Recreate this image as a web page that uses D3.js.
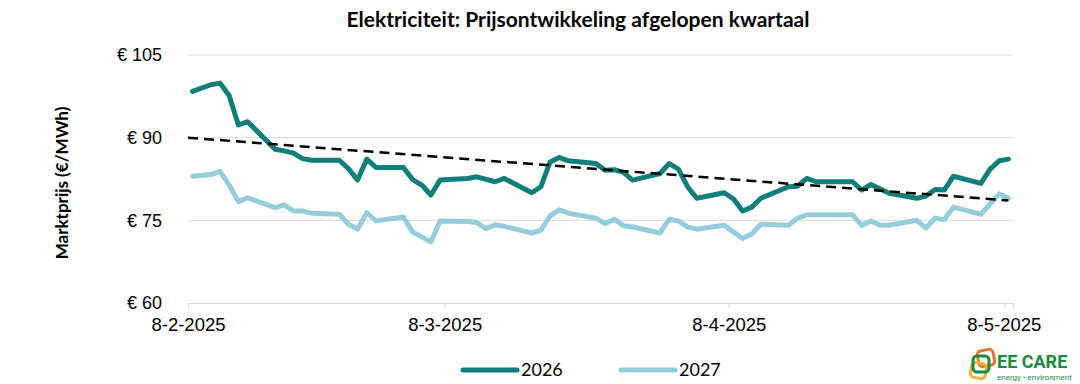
<!DOCTYPE html>
<html>
<head>
<meta charset="utf-8">
<script src="https://cdn.jsdelivr.net/npm/d3@7"></script>
<style>
  body { margin: 0; background: #fff; }
  svg { display: block; font-family: Lato, "Open Sans", sans-serif; }
</style>
</head>
<body>
<svg id="chart" width="1080" height="384"></svg>
<script>
// values (€/MWh)
const dates2026 = ['2025-02-08','2025-02-10','2025-02-11','2025-02-12','2025-02-13','2025-02-14',
  '2025-02-17','2025-02-18','2025-02-19','2025-02-20','2025-02-21','2025-02-24','2025-02-25',
  '2025-02-26','2025-02-27','2025-02-28','2025-03-03','2025-03-04','2025-03-05','2025-03-06',
  '2025-03-07','2025-03-10','2025-03-11','2025-03-13','2025-03-14','2025-03-17','2025-03-18',
  '2025-03-19','2025-03-20','2025-03-21','2025-03-24','2025-03-25','2025-03-26','2025-03-27',
  '2025-03-28','2025-03-31','2025-04-01','2025-04-02','2025-04-03','2025-04-04','2025-04-07',
  '2025-04-08','2025-04-09','2025-04-10','2025-04-11','2025-04-14','2025-04-15','2025-04-16',
  '2025-04-17','2025-04-21','2025-04-22','2025-04-23','2025-04-25','2025-04-28','2025-04-29',
  '2025-04-30','2025-05-01','2025-05-02','2025-05-05','2025-05-06','2025-05-07','2025-05-08'];
const price2026 = [98.4, 99.6, 99.9, 97.6, 92.3, 92.9,
  87.9, 87.6, 87.2, 86.2, 85.9, 85.9, 84.4,
  82.3, 86.1, 84.6, 84.6, 82.4, 81.4, 79.6,
  82.3, 82.6, 82.9, 82.0, 82.6, 80.0, 81.1,
  85.6, 86.4, 85.8, 85.3, 84.1, 84.2, 83.7,
  82.3, 83.5, 85.3, 84.3, 81.1, 79.0, 80.0,
  78.9, 76.7, 77.4, 79.0, 81.1, 81.2, 82.6,
  82.0, 82.0, 80.5, 81.5, 79.9, 79.0, 79.4,
  80.6, 80.5, 83.0, 81.7, 84.3, 85.8, 86.1];

const dates2027 = ['2025-02-08','2025-02-10','2025-02-11','2025-02-12','2025-02-13','2025-02-14',
  '2025-02-17','2025-02-18','2025-02-19','2025-02-20','2025-02-21','2025-02-24','2025-02-25',
  '2025-02-26','2025-02-27','2025-02-28','2025-03-03','2025-03-04','2025-03-06','2025-03-07',
  '2025-03-10','2025-03-11','2025-03-12','2025-03-13','2025-03-14','2025-03-17','2025-03-18',
  '2025-03-19','2025-03-20','2025-03-21','2025-03-24','2025-03-25','2025-03-26','2025-03-27',
  '2025-03-28','2025-03-31','2025-04-01','2025-04-02','2025-04-03','2025-04-04','2025-04-07',
  '2025-04-08','2025-04-09','2025-04-10','2025-04-11','2025-04-14','2025-04-15','2025-04-16',
  '2025-04-21','2025-04-22','2025-04-23','2025-04-24','2025-04-25','2025-04-28','2025-04-29',
  '2025-04-30','2025-05-01','2025-05-02','2025-05-05','2025-05-07','2025-05-08'];
const price2027 = [83.0, 83.3, 83.9, 81.4, 78.4, 79.1,
  77.3, 77.8, 76.7, 76.7, 76.3, 76.1, 74.3,
  73.4, 76.4, 74.9, 75.6, 72.9, 71.1, 74.9,
  74.8, 74.6, 73.5, 74.2, 73.9, 72.7, 73.2,
  75.8, 76.9, 76.3, 75.4, 74.4, 75.2, 74.0,
  73.8, 72.7, 75.2, 74.9, 73.8, 73.4, 74.1,
  72.9, 71.7, 72.5, 74.3, 74.1, 75.4, 76.0,
  76.0, 74.1, 74.9, 74.1, 74.1, 75.0, 73.6,
  75.4, 75.1, 77.4, 76.1, 79.8, 79.0];

// linear trend of 2026 (start and end value)
const trendDates = ['2025-02-08', '2025-05-08'];
const trendValues = [90.0, 78.6];

const yTicks = [60, 75, 90, 105];
const xTickDates = ['2025-02-08', '2025-03-08', '2025-04-08', '2025-05-08'];
const xTickLabels = ['8-2-2025', '8-3-2025', '8-4-2025', '8-5-2025'];
const seriesNames = ['2026', '2027'];
const seriesColors = ['#117e7b', '#96cddc'];

const margin = { top: 55, right: 67, bottom: 81, left: 188 };
const width = 1080, height = 384;
const halfDay = 12 * 3600 * 1000;

const parse = d3.utcParse('%Y-%m-%d');
const svg = d3.select('#chart');

const x = d3.scaleUtc()
  .domain([parse('2025-02-08'), parse('2025-05-09')])
  .range([margin.left, width - margin.right]);
const y = d3.scaleLinear()
  .domain([60, 105])
  .range([height - margin.bottom, margin.top]);

// points sit in the middle of their day
const px = (s) => x(new Date(parse(s).getTime() + halfDay));

// gridlines
svg.append('g')
  .selectAll('line')
  .data(yTicks.filter((d) => d > 60))
  .enter()
  .append('line')
  .attr('x1', margin.left)
  .attr('x2', width - margin.right)
  .attr('y1', (d) => y(d))
  .attr('y2', (d) => y(d))
  .attr('stroke', '#d9d9d9')
  .attr('stroke-width', 1);

// x axis
const xAxis = d3.axisBottom(x)
  .tickValues(xTickDates.map(parse))
  .tickFormat((d, i) => xTickLabels[i])
  .tickSize(5)
  .tickPadding(10);
const gx = svg.append('g')
  .attr('transform', `translate(0,${y(60)})`)
  .call(xAxis);
gx.select('.domain').attr('stroke', '#d9d9d9');
gx.selectAll('.tick line').attr('stroke', '#d9d9d9');
gx.selectAll('.tick text')
  .attr('fill', '#000')
  .style('font-size', '18.5px');

// y axis
const yAxis = d3.axisLeft(y)
  .tickValues(yTicks)
  .tickFormat((d) => '€ ' + d)
  .tickSize(0)
  .tickPadding(26);
const gy = svg.append('g')
  .attr('transform', `translate(${margin.left},0)`)
  .call(yAxis);
gy.select('.domain').remove();
gy.selectAll('.tick text')
  .attr('fill', '#000')
  .style('font-size', '18px');

// series
const line = d3.line()
  .x((d) => px(d.date))
  .y((d) => y(d.value));

const series = [
  dates2026.map((d, i) => ({ date: d, value: price2026[i] })),
  dates2027.map((d, i) => ({ date: d, value: price2027[i] }))
];

// draw 2027 first so 2026 sits on top
[1, 0].forEach((k) => {
  svg.append('path')
    .datum(series[k])
    .attr('d', line)
    .attr('fill', 'none')
    .attr('stroke', seriesColors[k])
    .attr('stroke-width', 5)
    .attr('stroke-linejoin', 'round')
    .attr('stroke-linecap', 'round');
});

// trend line
svg.append('path')
  .datum(trendDates.map((d, i) => ({ date: d, value: trendValues[i] })))
  .attr('d', d3.line().x((d, i) => i === 0 ? x(parse(d.date)) : px(d.date)).y((d) => y(d.value)))
  .attr('fill', 'none')
  .attr('stroke', '#000')
  .attr('stroke-width', 2.5)
  .attr('stroke-dasharray', '10,6');

// title
svg.append('text')
  .attr('x', 578)
  .attr('y', 27)
  .attr('text-anchor', 'middle')
  .style('font-size', '21px')
  .style('font-weight', 'bold')
  .text('Elektriciteit: Prijsontwikkeling afgelopen kwartaal');

// y axis title
svg.append('text')
  .attr('transform', 'translate(68,183) rotate(-90)')
  .attr('text-anchor', 'middle')
  .style('font-size', '17px')
  .style('font-weight', 'bold')
  .text('Marktprijs (€/MWh)');

// legend
const legendX = [463, 621];
const legend = svg.append('g');
seriesNames.forEach((name, i) => {
  legend.append('line')
    .attr('x1', legendX[i])
    .attr('x2', legendX[i] + 54)
    .attr('y1', 370)
    .attr('y2', 370)
    .attr('stroke', seriesColors[i])
    .attr('stroke-width', 5)
    .attr('stroke-linecap', 'round');
  legend.append('text')
    .attr('x', legendX[i] + 58)
    .attr('y', 376)
    .style('font-size', '18px')
    .text(name);
});

// logo
const logo = svg.append('g').attr('transform', 'translate(968,348)');
logo.append('rect')
  .attr('x', 10).attr('y', 2).attr('width', 16).attr('height', 16).attr('rx', 4)
  .attr('fill', 'none').attr('stroke', '#e8772e').attr('stroke-width', 3)
  .attr('transform', 'rotate(-12,18,10)');
logo.append('rect')
  .attr('x', 3).attr('y', 15).attr('width', 15).attr('height', 15).attr('rx', 4)
  .attr('fill', 'none').attr('stroke', '#f2b33d').attr('stroke-width', 3)
  .attr('transform', 'rotate(10,10,22)');
logo.append('rect')
  .attr('x', 5).attr('y', 8).attr('width', 16).attr('height', 16).attr('rx', 4)
  .attr('fill', 'none').attr('stroke', '#1d8a3e').attr('stroke-width', 3);
logo.append('text')
  .attr('x', 29).attr('y', 20)
  .attr('fill', '#1d8a3e')
  .style('font-size', '18px')
  .style('font-weight', 'bold')
  .style('font-family', '"Liberation Sans Narrow", "Roboto", sans-serif')
  .text('EE CARE');
logo.append('text')
  .attr('x', 29).attr('y', 32)
  .attr('fill', '#1d8a3e')
  .style('font-size', '8px')
  .style('font-family', '"Liberation Sans Narrow", "Roboto", sans-serif')
  .text('energy • environment');
</script>
</body>
</html>
